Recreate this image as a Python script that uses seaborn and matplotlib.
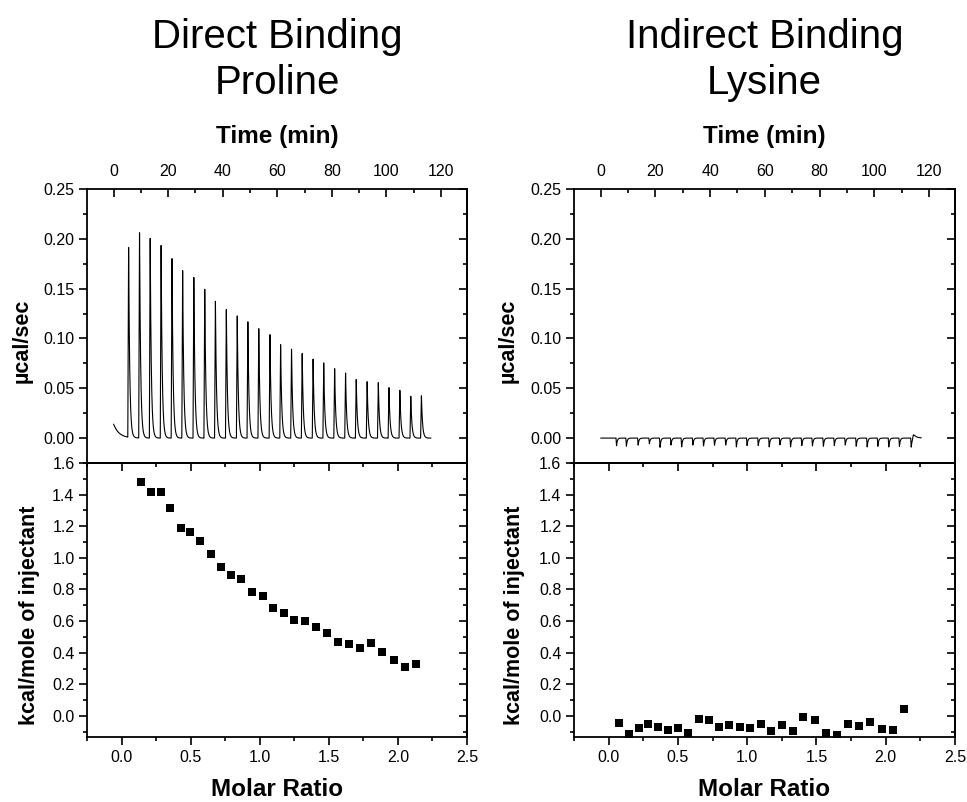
import numpy as np
import pandas as pd
import matplotlib
matplotlib.use("Agg")
import matplotlib.pyplot as plt
import seaborn as sns
from matplotlib.ticker import MultipleLocator, FormatStrFormatter

# ---------------- data ----------------
title_left = ["Direct Binding", "Proline"]
title_right = ["Indirect Binding", "Lysine"]

# Proline thermogram: injection peak times (min) and peak heights (ucal/sec)
pro_inj_time = [5.5, 9.5, 13.4, 17.4, 21.4, 25.3, 29.4, 33.4, 37.3, 41.3,
                45.3, 49.2, 53.2, 57.3, 61.2, 65.2, 69.1, 73.1, 77.0, 81.0,
                85.0, 88.9, 92.9, 97.0, 100.9, 104.9, 108.9, 112.8]
pro_peak = [0.193, 0.210, 0.203, 0.195, 0.181, 0.169, 0.162, 0.151, 0.140, 0.131,
            0.124, 0.117, 0.110, 0.104, 0.095, 0.091, 0.086, 0.080, 0.0755, 0.070,
            0.066, 0.060, 0.0575, 0.0565, 0.051, 0.048, 0.042, 0.043]
pro_trace_end = 116.3
pro_start_level = 0.014

# Lysine thermogram: small negative injection spikes
lys_inj_time = [5.8, 9.4, 13.7, 17.8, 21.7, 25.7, 29.6, 33.7, 37.6, 41.6,
                45.7, 49.6, 53.5, 57.6, 61.6, 65.5, 69.4, 73.5, 77.4, 81.4,
                85.4, 89.4, 93.4, 97.4, 101.3, 105.3, 109.2, 113.5]
lys_dip = [-0.0077, -0.0083, -0.0070, -0.0057, -0.0093, -0.0070, -0.0090, -0.0070,
           -0.0080, -0.0073, -0.0070, -0.0090, -0.0077, -0.0077, -0.0090, -0.0070,
           -0.0090, -0.0077, -0.0080, -0.0083, -0.0077, -0.0070, -0.0083, -0.0090,
           -0.0083, -0.0090, -0.0083, -0.0093]
lys_trace_end = 117.2
lys_end_bump_time = 114.3
lys_end_bump = 0.004

# Binding isotherms: molar ratio vs kcal/mole of injectant
pro_ratio = [0.140, 0.212, 0.284, 0.354, 0.429, 0.499, 0.571, 0.645, 0.718, 0.792,
             0.867, 0.947, 1.021, 1.098, 1.173, 1.250, 1.327, 1.407, 1.486, 1.566,
             1.645, 1.724, 1.804, 1.888, 1.970, 2.052, 2.134]
pro_heat = [1.478, 1.414, 1.414, 1.317, 1.186, 1.165, 1.108, 1.027, 0.941, 0.890,
            0.867, 0.782, 0.759, 0.681, 0.649, 0.609, 0.598, 0.564, 0.524, 0.469,
            0.457, 0.427, 0.461, 0.406, 0.355, 0.311, 0.330]

lys_ratio = [0.072, 0.144, 0.216, 0.286, 0.358, 0.430, 0.502, 0.575, 0.649, 0.721,
             0.796, 0.870, 0.947, 1.022, 1.099, 1.175, 1.252, 1.329, 1.406, 1.486,
             1.567, 1.647, 1.726, 1.805, 1.887, 1.971, 2.053, 2.135]
lys_heat = [-0.042, -0.116, -0.076, -0.053, -0.072, -0.087, -0.076, -0.110, -0.019, -0.023,
            -0.070, -0.055, -0.068, -0.076, -0.053, -0.095, -0.059, -0.097, -0.008, -0.023,
            -0.110, -0.118, -0.053, -0.061, -0.038, -0.082, -0.087, 0.042]

# ---------------- helpers ----------------
def thermogram(times, heights, t_end, rise, tau, n=8000):
    t = np.linspace(0.0, t_end, n)
    y = np.zeros_like(t)
    for t0, h in zip(times, heights):
        s = t - t0
        up = (s >= -rise) & (s < 0)
        y[up] += h * (s[up] + rise) / rise
        down = s >= 0
        y[down] += h * np.exp(-s[down] / tau)
    return t, y


t_pro, y_pro = thermogram(pro_inj_time, pro_peak, pro_trace_end, rise=0.3, tau=0.4)
y_pro = y_pro + pro_start_level * np.exp(-t_pro / 2.0)

t_lys, y_lys = thermogram(lys_inj_time, lys_dip, lys_trace_end, rise=0.2, tau=0.3)
_, y_bump = thermogram([lys_end_bump_time], [lys_end_bump], lys_trace_end, rise=0.4, tau=1.0)
y_lys = y_lys + y_bump

therm_pro = pd.DataFrame({"time": t_pro, "power": y_pro})
therm_lys = pd.DataFrame({"time": t_lys, "power": y_lys})
iso_pro = pd.DataFrame({"ratio": pro_ratio, "heat": pro_heat})
iso_lys = pd.DataFrame({"ratio": lys_ratio, "heat": lys_heat})

# ---------------- style ----------------
sns.set_theme(style="ticks")
plt.rcParams["font.family"] = ["Liberation Sans", "DejaVu Sans"]
plt.rcParams.update({
    "axes.edgecolor": "black",
    "axes.linewidth": 1.3,
    "xtick.color": "black",
    "ytick.color": "black",
    "text.color": "black",
    "axes.labelcolor": "black",
    "xtick.labelsize": 11.5,
    "ytick.labelsize": 11.5,
})

W, H = 967, 802
fig = plt.figure(figsize=(W / 100, H / 100), dpi=100)
fig.patch.set_facecolor("white")

cols = [(87, 380), (574, 381)]
top_rect_y = (463, 274)
bot_rect_y = (737, 274)

MAJ, MIN = 5.5, 3.0
TICK_W = 1.2


def style_top(ax):
    ax.set_xlim(-9.75, 129.5)
    ax.set_ylim(-0.025, 0.25)
    ax.xaxis.tick_top()
    ax.xaxis.set_label_position("top")
    ax.xaxis.set_major_locator(MultipleLocator(20))
    ax.xaxis.set_minor_locator(MultipleLocator(10))
    ax.yaxis.set_major_locator(MultipleLocator(0.05))
    ax.yaxis.set_minor_locator(MultipleLocator(0.025))
    ax.yaxis.set_major_formatter(FormatStrFormatter("%.2f"))
    ax.tick_params(axis="x", which="both", direction="in", top=True, bottom=False,
                   labeltop=True, labelbottom=False, pad=7, width=TICK_W)
    ax.tick_params(axis="y", which="both", direction="out", left=True, right=False,
                   pad=3.5, width=TICK_W)
    ax.tick_params(which="major", length=MAJ)
    ax.tick_params(which="minor", length=MIN)
    sec = ax.secondary_yaxis("right")
    sec.yaxis.set_major_locator(MultipleLocator(0.05))
    sec.yaxis.set_minor_locator(MultipleLocator(0.025))
    sec.tick_params(which="both", direction="in", labelright=False, width=TICK_W)
    sec.tick_params(which="major", length=MAJ)
    sec.tick_params(which="minor", length=MIN)
    sec.spines["right"].set_linewidth(1.3)
    ax.set_xlabel("Time (min)", fontsize=17.5, fontweight="bold")
    ax.xaxis.set_label_coords(0.5, 1.193)
    ax.xaxis.label.set_va("center")
    ax.set_ylabel("µcal/sec", fontsize=15.5, fontweight="bold")


def style_bottom(ax):
    ax.set_xlim(-0.25, 2.5)
    ax.set_ylim(-0.133, 1.6)
    ax.xaxis.set_major_locator(MultipleLocator(0.5))
    ax.xaxis.set_minor_locator(MultipleLocator(0.25))
    ax.yaxis.set_major_locator(MultipleLocator(0.2))
    ax.yaxis.set_minor_locator(MultipleLocator(0.1))
    ax.xaxis.set_major_formatter(FormatStrFormatter("%.1f"))
    ax.yaxis.set_major_formatter(FormatStrFormatter("%.1f"))
    ax.tick_params(axis="x", which="both", direction="out", bottom=True, top=False,
                   pad=4, width=TICK_W)
    ax.tick_params(axis="y", which="both", direction="out", left=True, right=False,
                   pad=3.5, width=TICK_W)
    ax.tick_params(which="major", length=MAJ)
    ax.tick_params(which="minor", length=MIN)
    secy = ax.secondary_yaxis("right")
    secy.yaxis.set_major_locator(MultipleLocator(0.2))
    secy.yaxis.set_minor_locator(MultipleLocator(0.1))
    secy.tick_params(which="both", direction="in", labelright=False, width=TICK_W)
    secy.tick_params(which="major", length=MAJ)
    secy.tick_params(which="minor", length=MIN)
    secy.spines["right"].set_linewidth(1.3)
    secx = ax.secondary_xaxis("top")
    secx.xaxis.set_major_locator(MultipleLocator(0.5))
    secx.xaxis.set_minor_locator(MultipleLocator(0.25))
    secx.tick_params(which="both", direction="in", labeltop=False, width=TICK_W)
    secx.tick_params(which="major", length=MAJ)
    secx.tick_params(which="minor", length=MIN)
    secx.spines["top"].set_linewidth(1.3)
    ax.set_xlabel("Molar Ratio", fontsize=17.5, fontweight="bold")
    ax.xaxis.set_label_coords(0.5, -0.193)
    ax.xaxis.label.set_va("center")
    ax.set_ylabel("kcal/mole of injectant", fontsize=15.5, fontweight="bold")


panels = [
    (cols[0], therm_pro, iso_pro, title_left, (-0.170, -0.151)),
    (cols[1], therm_lys, iso_lys, title_right, (-0.173, -0.156)),
]

for (x0, w), therm, iso, title, (lx_top, lx_bot) in panels:
    ax_t = fig.add_axes([x0 / W, (H - top_rect_y[0]) / H, w / W, top_rect_y[1] / H])
    ax_b = fig.add_axes([x0 / W, (H - bot_rect_y[0]) / H, w / W, bot_rect_y[1] / H])

    sns.lineplot(data=therm, x="time", y="power", ax=ax_t, color="black",
                 linewidth=0.8, estimator=None, sort=False)
    sns.scatterplot(data=iso, x="ratio", y="heat", ax=ax_b, marker="s", s=40,
                    color="black", linewidth=0, zorder=3)

    style_top(ax_t)
    style_bottom(ax_b)
    ax_t.yaxis.set_label_coords(lx_top, 0.446)
    ax_b.yaxis.set_label_coords(lx_bot, 0.445)
    ax_t.yaxis.label.set_va("center")
    ax_b.yaxis.label.set_va("center")

    cx = (x0 + w / 2) / W
    fig.text(cx, 1 - 47.7 / H, title[0], ha="center", va="baseline", fontsize=29)
    fig.text(cx, 1 - 94.0 / H, title[1], ha="center", va="baseline", fontsize=29)

fig.savefig("out.png", dpi=100, facecolor="white")
